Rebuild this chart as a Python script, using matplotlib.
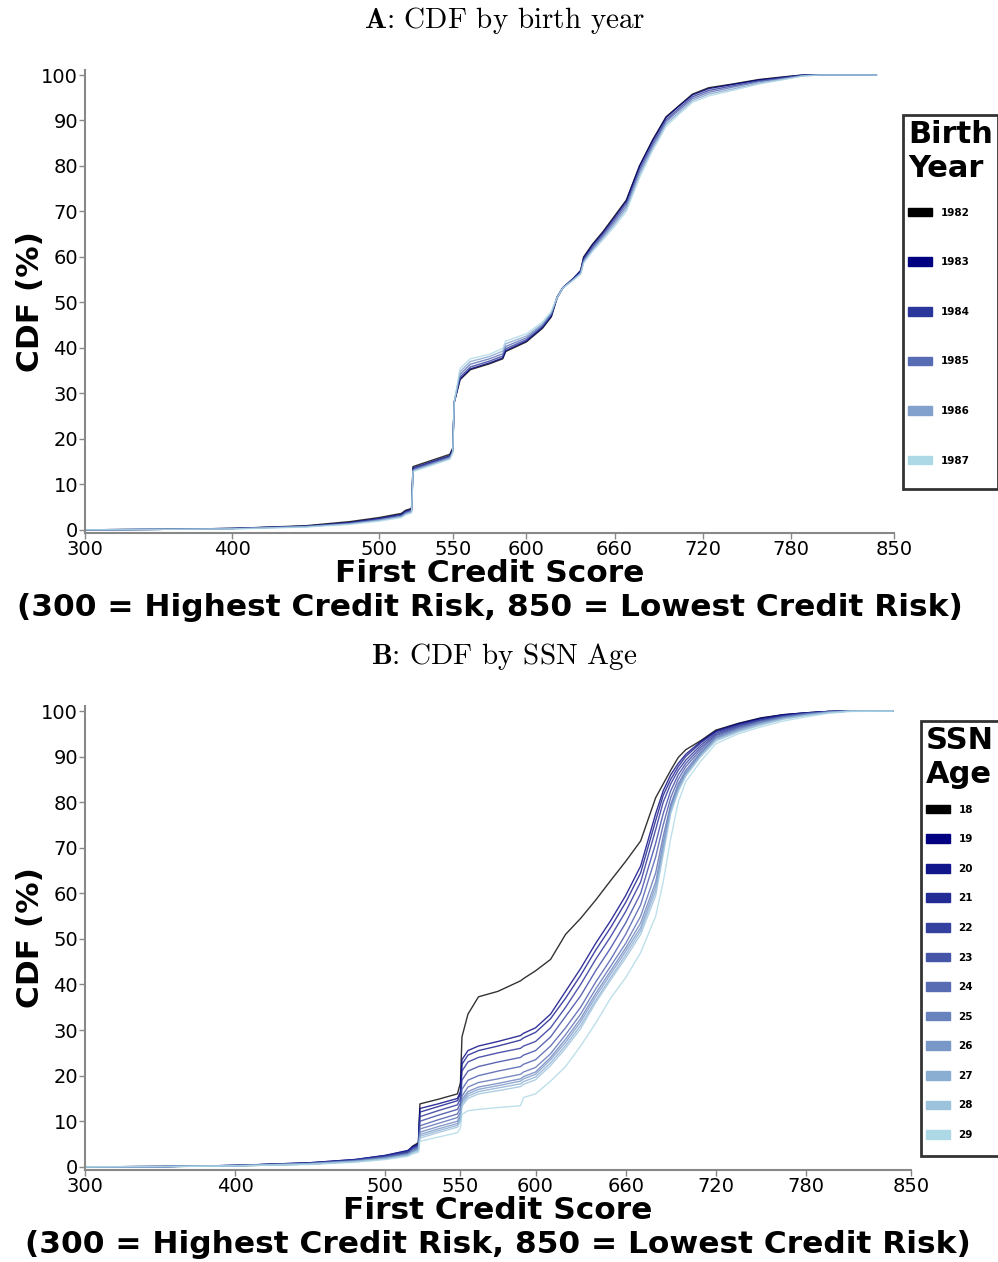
import matplotlib
matplotlib.use("Agg")
import matplotlib.pyplot as plt
import matplotlib.patches as mpatches
from matplotlib.offsetbox import VPacker, DrawingArea
import numpy as np
from matplotlib.colors import to_rgb

plt.rcParams['mathtext.fontset'] = 'cm'
plt.rcParams['font.family'] = ['DejaVu Sans']

# ---------------- Data ----------------
xticks = [300, 400, 500, 550, 600, 660, 720, 780, 850]
yticks = [0, 10, 20, 30, 40, 50, 60, 70, 80, 90, 100]

# Panel A: CDF by birth year
birth_years = ['1982', '1983', '1984', '1985', '1986', '1987']
scores_A = [300, 350, 400, 450, 480, 500, 515, 518, 522, 523, 535, 548, 550, 551, 555, 562, 575, 584, 586,
            600, 611, 617, 621, 625, 632, 637, 639, 645, 652, 660, 668, 677, 686, 690, 695, 704, 713, 724,
            740, 758, 775, 788, 800, 838]
cdf_1982 = [0.0, 0.1, 0.3, 0.9, 1.8, 2.7, 3.6, 4.3, 4.7, 13.9, 15.2, 16.6, 18.0, 28.0, 33.0, 35.2, 36.5, 37.6, 39.2,
            41.3, 44.3, 46.8, 51.0, 53.2, 55.2, 57.0, 60.0, 62.8, 65.5, 69.0, 72.5, 80.0, 85.8, 88.0, 90.8, 93.3, 95.8, 97.2,
            98.0, 99.0, 99.6, 100.0, 100.0, 100.0]
cdf_1983 = [0.0, 0.1, 0.3, 0.8, 1.6, 2.5, 3.4, 4.1, 4.5, 13.6, 14.9, 16.3, 17.7, 28.0, 33.2, 35.4, 36.7, 37.8, 39.4,
            41.5, 44.5, 47.0, 51.2, 53.3, 55.3, 57.0, 59.8, 62.6, 65.3, 68.7, 72.3, 80.0, 85.6, 87.8, 90.6, 93.2, 95.6, 97.0,
            97.9, 98.9, 99.5, 100.0, 100.0, 100.0]
cdf_1984 = [0.0, 0.1, 0.3, 0.8, 1.5, 2.4, 3.2, 3.9, 4.3, 13.4, 14.7, 16.1, 17.5, 28.0, 33.6, 35.8, 37.1, 38.2, 39.8,
            41.8, 44.7, 47.2, 51.2, 53.3, 55.2, 56.8, 59.5, 62.2, 64.9, 68.2, 71.8, 79.3, 85.0, 87.2, 90.1, 92.7, 95.2, 96.6,
            97.6, 98.7, 99.4, 99.9, 100.0, 100.0]
cdf_1985 = [0.0, 0.1, 0.3, 0.7, 1.4, 2.2, 3.0, 3.7, 4.1, 13.2, 14.5, 15.9, 17.3, 28.0, 34.2, 36.4, 37.6, 38.7, 40.3,
            42.2, 45.0, 47.5, 51.2, 53.3, 55.1, 56.6, 59.2, 61.8, 64.5, 67.7, 71.2, 78.7, 84.5, 86.7, 89.7, 92.3, 94.8, 96.2,
            97.3, 98.5, 99.3, 99.9, 100.0, 100.0]
cdf_1986 = [0.0, 0.1, 0.2, 0.7, 1.3, 2.1, 2.9, 3.5, 3.9, 13.0, 14.3, 15.7, 17.1, 28.0, 34.8, 37.0, 38.1, 39.3, 40.9,
            42.6, 45.3, 47.7, 51.1, 53.2, 55.0, 56.4, 58.9, 61.5, 64.1, 67.2, 70.6, 78.0, 84.0, 86.2, 89.2, 91.8, 94.4, 95.8,
            96.9, 98.2, 99.1, 99.8, 100.0, 100.0]
cdf_1987 = [0.0, 0.1, 0.2, 0.6, 1.2, 1.9, 2.7, 3.3, 3.7, 12.8, 14.1, 15.5, 16.9, 28.0, 35.5, 37.6, 38.6, 39.9, 41.5,
            43.1, 45.7, 48.0, 51.1, 53.2, 54.9, 56.2, 58.6, 61.2, 63.7, 66.7, 70.0, 77.4, 83.5, 85.7, 88.7, 91.4, 94.0, 95.4,
            96.6, 98.0, 99.0, 99.8, 100.0, 100.0]
series_A = [cdf_1982, cdf_1983, cdf_1984, cdf_1985, cdf_1986, cdf_1987]

# Panel B: CDF by SSN age
ssn_ages = ['18', '19', '20', '21', '22', '23', '24', '25', '26', '27', '28', '29']
scores_B = [300, 350, 400, 450, 480, 500, 515, 518, 522, 523, 535, 548, 550, 551, 555, 562, 575, 590, 592, 600,
            610, 620, 630, 640, 650, 660, 670, 680, 685, 690, 695, 700, 710, 720, 735, 750, 765, 780, 795, 810, 838]
cdf_18 = [0, 0.05, 0.2, 0.6, 1.2, 1.9, 3.2, 4.5, 5.3, 13.8, 14.8, 16.0, 18.5, 28.5, 33.5, 37.3, 38.5, 40.8, 41.3, 43.0,
          45.5, 51.0, 54.5, 58.5, 62.8, 67.0, 71.5, 81.0, 84.0, 87.0, 89.8, 91.5, 93.5, 95.8, 97.3, 98.5, 99.2, 99.6, 99.9, 100, 100]
cdf_19 = [0, 0.05, 0.3, 0.9, 1.6, 2.5, 3.6, 4.4, 5.0, 12.8, 13.8, 15.0, 16.5, 23.5, 25.5, 26.5, 27.5, 28.8, 29.3, 30.5,
          33.5, 38.5, 43.5, 49.0, 54.0, 59.5, 66.0, 77.5, 82.5, 86.0, 88.5, 90.5, 93.3, 95.6, 97.2, 98.4, 99.2, 99.6, 99.9, 100, 100]
cdf_20 = [0, 0.05, 0.3, 0.9, 1.6, 2.5, 3.5, 4.3, 4.9, 12.0, 13.2, 14.5, 16.0, 22.5, 24.5, 25.5, 26.5, 27.8, 28.3, 29.5,
          32.5, 37.0, 42.0, 47.5, 52.5, 58.0, 64.5, 76.0, 81.5, 85.0, 87.8, 90.0, 93.0, 95.4, 97.0, 98.3, 99.1, 99.6, 99.9, 100, 100]
cdf_21 = [0, 0.05, 0.3, 0.8, 1.5, 2.4, 3.4, 4.2, 4.8, 11.0, 12.3, 13.6, 15.0, 21.0, 23.0, 24.0, 25.0, 26.0, 26.5, 27.5,
          30.5, 35.0, 40.0, 45.5, 50.5, 56.0, 62.5, 74.0, 80.0, 84.0, 87.0, 89.2, 92.5, 95.1, 96.8, 98.1, 99.0, 99.5, 99.9, 100, 100]
cdf_22 = [0, 0.05, 0.3, 0.8, 1.5, 2.3, 3.3, 4.0, 4.6, 10.0, 11.3, 12.6, 14.0, 19.0, 21.0, 22.0, 23.0, 24.0, 24.5, 25.5,
          28.5, 33.0, 37.5, 43.0, 48.0, 53.5, 60.0, 71.0, 77.5, 82.5, 86.0, 88.5, 92.0, 94.8, 96.6, 98.0, 98.9, 99.5, 99.8, 100, 100]
cdf_23 = [0, 0.05, 0.3, 0.8, 1.4, 2.2, 3.1, 3.8, 4.4, 9.0, 10.3, 11.6, 13.0, 17.0, 19.0, 20.0, 21.0, 22.0, 22.5, 23.5,
          26.5, 30.5, 35.0, 40.5, 45.5, 51.0, 57.5, 68.0, 75.0, 81.0, 85.0, 87.8, 91.5, 94.6, 96.4, 97.8, 98.8, 99.4, 99.8, 100, 100]
cdf_24 = [0, 0.05, 0.25, 0.7, 1.3, 2.1, 2.9, 3.6, 4.2, 8.3, 9.5, 10.8, 12.0, 15.5, 17.5, 18.5, 19.3, 20.3, 20.8, 21.8,
          24.8, 29.0, 33.5, 39.0, 44.0, 49.0, 55.0, 64.5, 72.5, 79.5, 84.0, 87.0, 91.0, 94.3, 96.2, 97.6, 98.7, 99.4, 99.8, 100, 100]
cdf_25 = [0, 0.05, 0.25, 0.7, 1.3, 2.0, 2.8, 3.4, 4.0, 7.6, 8.8, 10.0, 11.3, 14.8, 16.5, 17.5, 18.3, 19.3, 19.8, 20.8,
          24.0, 28.0, 32.5, 38.0, 43.0, 48.0, 53.5, 62.5, 71.0, 79.0, 83.5, 86.5, 90.7, 94.1, 96.0, 97.5, 98.6, 99.3, 99.8, 100, 100]
cdf_26 = [0, 0.05, 0.25, 0.7, 1.2, 1.9, 2.7, 3.3, 3.9, 7.1, 8.3, 9.5, 10.8, 14.3, 16.0, 17.0, 17.8, 18.8, 19.3, 20.3,
          23.5, 27.3, 31.8, 37.3, 42.3, 47.3, 52.5, 61.5, 70.0, 78.5, 83.0, 86.2, 90.5, 93.9, 95.8, 97.3, 98.5, 99.2, 99.7, 100, 100]
cdf_27 = [0, 0.05, 0.25, 0.6, 1.2, 1.8, 2.6, 3.2, 3.7, 6.7, 7.9, 9.1, 10.4, 13.8, 15.5, 16.5, 17.3, 18.2, 18.7, 19.7,
          22.8, 26.6, 31.0, 36.5, 41.5, 46.5, 51.8, 60.5, 69.5, 78.0, 82.7, 86.0, 90.3, 93.7, 95.6, 97.1, 98.3, 99.1, 99.7, 100, 100]
cdf_28 = [0, 0.05, 0.2, 0.6, 1.1, 1.7, 2.5, 3.0, 3.5, 6.3, 7.5, 8.7, 10.0, 13.3, 15.0, 16.0, 16.7, 17.6, 18.1, 19.1,
          22.2, 26.0, 30.3, 36.0, 41.0, 45.8, 51.0, 59.5, 68.5, 77.5, 82.3, 85.7, 90.0, 93.4, 95.4, 96.9, 98.2, 99.0, 99.6, 100, 100]
cdf_29 = [0, 0.05, 0.2, 0.5, 1.0, 1.6, 2.3, 2.8, 3.2, 5.6, 6.5, 7.5, 8.5, 11.5, 12.3, 12.6, 13.0, 13.4, 15.2, 16.0,
          18.8, 22.0, 26.5, 31.5, 37.0, 41.5, 47.0, 55.0, 62.5, 72.0, 80.0, 84.5, 89.0, 92.8, 95.0, 96.5, 97.8, 98.7, 99.5, 99.9, 100]
series_B = [cdf_18, cdf_19, cdf_20, cdf_21, cdf_22, cdf_23, cdf_24, cdf_25, cdf_26, cdf_27, cdf_28, cdf_29]


def palette(n):
    navy = np.array(to_rgb('navy'))
    light = np.array(to_rgb('lightblue'))
    cols = [(0, 0, 0)]
    for i in range(n - 1):
        t = i / (n - 2) if n > 2 else 0
        cols.append(tuple(navy + (light - navy) * t))
    return cols


fig = plt.figure(figsize=(9.98, 12.62), dpi=100)
H = 1262.0
W = 998.0

axA = fig.add_axes([85 / W, (H - 533) / H, 809 / W, 463 / H])
axB = fig.add_axes([85 / W, (H - 1170) / H, 826 / W, 464 / H])


def style(ax, title, title_x, xs, series, labels, legend_title, leg_anchor, labelspacing,
          sep_title, sep_bottom):
    cols = palette(len(series))
    for ys, c in zip(series, cols):
        ax.plot(xs, ys, color=c, lw=1.0, alpha=0.8)
    ax.set_xlim(300, 850)
    ax.set_ylim(-0.7, 101.1)
    ax.set_xticks(xticks)
    ax.set_xticklabels([str(v) for v in xticks])
    ax.set_yticks(yticks)
    ax.tick_params(axis='both', labelsize=14, colors='#888888', labelcolor='black',
                   length=4, width=1, pad=1)
    for s in ['top', 'right']:
        ax.spines[s].set_visible(False)
    for s in ['left', 'bottom']:
        ax.spines[s].set_color('#888888')
        ax.spines[s].set_linewidth(1.5)
    ax.set_xlabel('First Credit Score\n(300 = Highest Credit Risk, 850 = Lowest Credit Risk)',
                  fontsize=22.5, fontweight='bold', labelpad=0, linespacing=1.22)
    ax.set_ylabel('CDF (%)', fontsize=22.5, fontweight='bold', labelpad=-3)
    t = ax.set_title(title, fontsize=21, pad=30, fontfamily='cmr10')
    t.set_x(title_x)
    handles = [mpatches.Patch(facecolor=c, edgecolor=c, label=l) for c, l in zip(cols, labels)]
    leg = ax.legend(handles=handles, loc='upper left', bbox_to_anchor=leg_anchor,
                    borderaxespad=0, frameon=True, fancybox=False,
                    prop={'size': 7.5, 'weight': 'bold'},
                    title=legend_title, title_fontproperties={'size': 22, 'weight': 'bold'},
                    handlelength=2.3, handleheight=0.9, labelspacing=labelspacing,
                    alignment='left', borderpad=0.5)
    leg.get_frame().set_edgecolor('black')
    leg.get_frame().set_linewidth(2)
    # adjust vertical spacing: title->entries and entries->bottom
    box = leg._legend_box
    box.sep = sep_title * 72.0 / fig.dpi
    inner = VPacker(pad=0, sep=sep_bottom * 72.0 / fig.dpi, align='left',
                    children=[leg._legend_handle_box, DrawingArea(1, 0)])
    inner.set_figure(fig)
    box._children[1] = inner
    return leg


style(axA, r'$\mathbf{A}$: CDF by birth year', 0.519, scores_A, series_A, birth_years,
      'Birth\nYear', (1.011, 0.903), 3.8, 25, 18)
style(axB, r'$\mathbf{B}$: CDF by SSN Age', 0.508, scores_B, series_B, ssn_ages,
      'SSN\nAge', (1.012, 0.968), 1.88, 16, 11)

fig.savefig('out.png', dpi=100)
